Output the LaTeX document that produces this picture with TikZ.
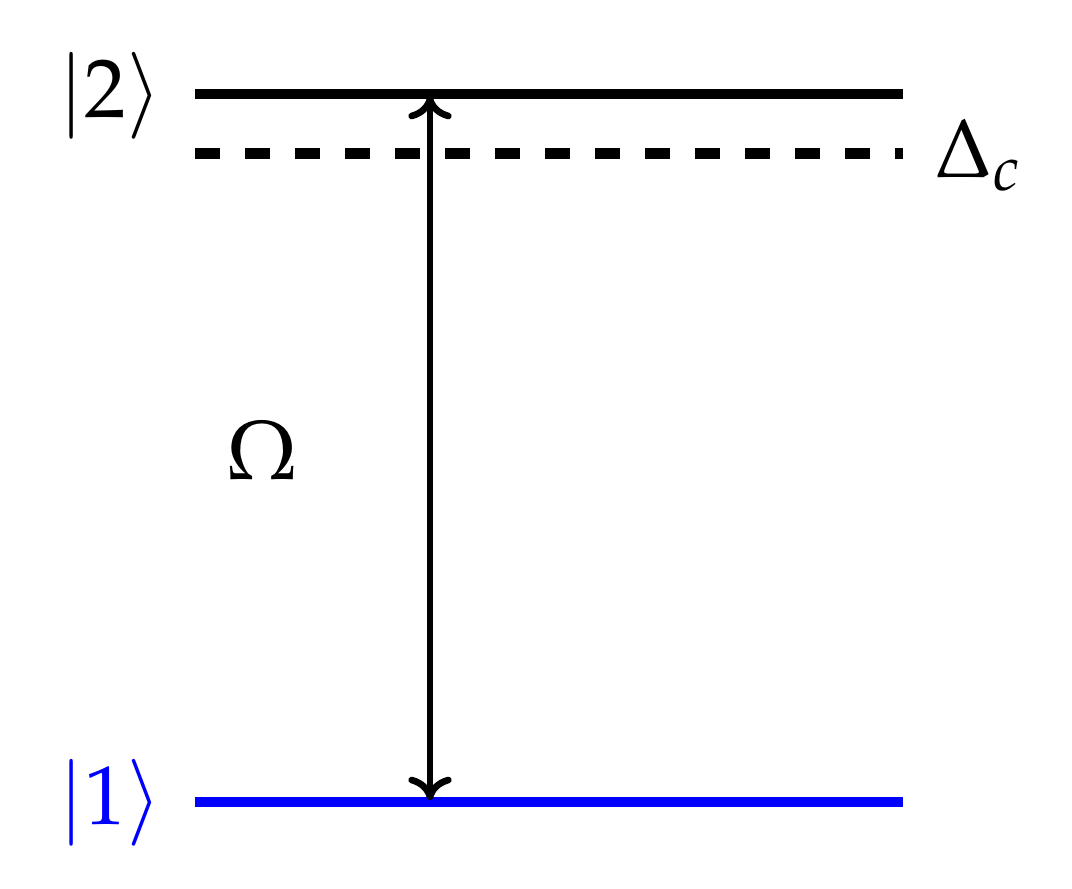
\documentclass[tikz,border=0pt]{standalone}
\usepackage{amsmath}
\usepackage{mathpazo}
\usetikzlibrary{arrows.meta, positioning}

\tikzset{
  level/.style={line width=3pt},
  detuned/.style={line width=3.3pt, dash pattern=on 7.5pt off 7.5pt},
  coupling/.style={line width=2pt, {Computer Modern Rightarrow[width=13pt,length=7pt]}-{Computer Modern Rightarrow[width=13pt,length=7pt]}},
  ket/.style={font=\fontsize{25}{30}\selectfont, inner sep=0pt}
}

\begin{document}
\begin{tikzpicture}[x=0.3pt, y=-0.3pt]
  \useasboundingbox (0,0) rectangle (1072,888);

  % levels
  \coordinate (topL) at (195,94);
  \coordinate (topR) at (903,94);
  \coordinate (detL) at (195,153);
  \coordinate (detR) at (903,153);
  \coordinate (botL) at (195,802);
  \coordinate (botR) at (903,802);

  \draw[level] (topL) -- (topR);
  \draw[detuned] (detL) -- (detR);
  \draw[level, blue] (botL) -- (botR);

  \node[ket] (two) at (110,96) {$|2\rangle$};
  \node[ket, blue] (one) at (110,803) {$|1\rangle$};
  \node[ket] (det) at (978,155) {$\Delta_c$};

  % drive
  \coordinate (up) at (430,96);
  \coordinate (lo) at (430,800);
  \draw[coupling] (lo) -- (up);
  \node[ket] (rabi) at (262,450) {$\Omega$};
\end{tikzpicture}
\end{document}
